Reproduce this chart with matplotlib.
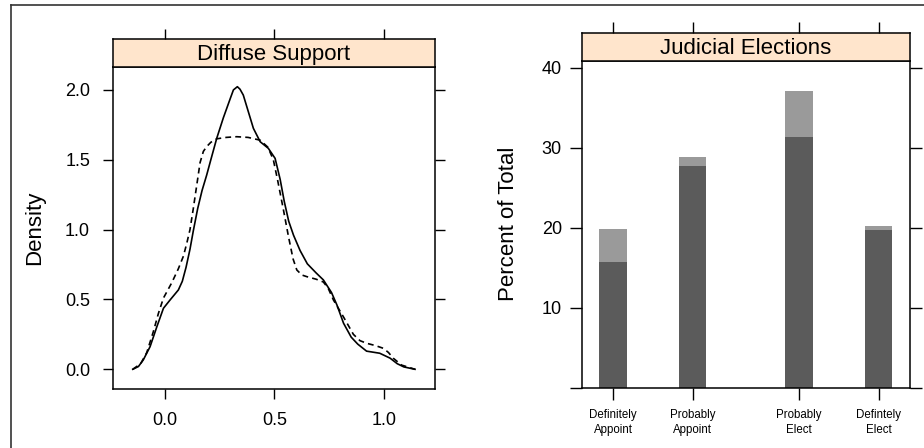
import numpy as np
import matplotlib
matplotlib.use('Agg')
import matplotlib.pyplot as plt
from matplotlib.lines import Line2D

plt.rcParams['font.family'] = ['Liberation Sans', 'DejaVu Sans']

# density curves
dens_x = [-0.146, -0.12, -0.098, -0.067, -0.036, -0.006, 0.024, 0.062, 0.08, 0.097,
          0.115, 0.13, 0.15, 0.17, 0.191, 0.21, 0.237, 0.267, 0.299, 0.313,
          0.331, 0.343, 0.358, 0.381, 0.404, 0.435, 0.472, 0.503, 0.526, 0.545,
          0.565, 0.587, 0.617, 0.65, 0.69, 0.723, 0.76, 0.785, 0.815, 0.85,
          0.88, 0.92, 0.98, 1.027, 1.06, 1.09, 1.141]
dens_solid = [0.0, 0.02, 0.067, 0.162, 0.305, 0.437, 0.496, 0.568, 0.63, 0.73,
              0.86, 0.99, 1.15, 1.28, 1.39, 1.50, 1.654, 1.80, 1.94, 2.0,
              2.023, 2.005, 1.963, 1.844, 1.725, 1.629, 1.582, 1.51, 1.36, 1.20,
              1.06, 0.96, 0.85, 0.755, 0.69, 0.64, 0.55, 0.46, 0.33, 0.23,
              0.18, 0.13, 0.115, 0.08, 0.04, 0.017, 0.0]
dash_x = [-0.146, -0.11, -0.082, -0.052, -0.029, -0.006, 0.032, 0.062, 0.085, 0.10,
          0.115, 0.13, 0.146, 0.161, 0.176, 0.191, 0.21, 0.237, 0.28, 0.328,
          0.38, 0.435, 0.47, 0.495, 0.515, 0.54, 0.564, 0.585, 0.602, 0.625,
          0.648, 0.69, 0.723, 0.745, 0.769, 0.814, 0.860, 0.89, 0.921, 0.96,
          0.997, 1.02, 1.042, 1.08, 1.141]
dens_dash = [0.0, 0.04, 0.12, 0.27, 0.40, 0.51, 0.62, 0.72, 0.81, 0.90,
             1.0, 1.15, 1.32, 1.48, 1.56, 1.594, 1.625, 1.65, 1.66, 1.665,
             1.66, 1.64, 1.59, 1.50, 1.35, 1.15, 0.95, 0.79, 0.711, 0.675,
             0.663, 0.645, 0.625, 0.58, 0.496, 0.377, 0.25, 0.205, 0.186, 0.17,
             0.150, 0.12, 0.079, 0.03, 0.0]

# judicial elections bars
categories = ['Definitely\nAppoint', 'Probably\nAppoint', 'Probably\nElect', 'Defintely\nElect']
cat_pos = [1, 2, 3.33, 4.33]
pct_light = [19.8, 28.9, 37.1, 20.2]
pct_dark = [15.7, 27.75, 31.3, 19.7]

W, H = 924, 448
fig = plt.figure(figsize=(W / 100, H / 100), dpi=100)

def fx(px):
    return px / W

def fy(py):
    return 1 - py / H

strip_col = '#ffe5cc'
tick_fs = 13
lab_fs = 16

# ---------- left panel ----------
ax1 = fig.add_axes([fx(113), fy(389), fx(435 - 113), (389 - 67) / H])
ax1.plot(dens_x, dens_solid, color='black', lw=1.2, solid_joinstyle='round')
ax1.plot(dash_x, dens_dash, color='black', lw=1.2, ls=(0, (3.5, 2.5)))
ax1.set_xlim(-0.236, 1.232)
ax1.set_ylim(-0.141, 2.164)
ax1.set_xticks([0.0, 0.5, 1.0])
ax1.set_xticklabels(['0.0', '0.5', '1.0'])
ax1.set_yticks([0.0, 0.5, 1.0, 1.5, 2.0])
ax1.set_yticklabels(['0.0', '0.5', '1.0', '1.5', '2.0'])
ax1.tick_params(axis='both', direction='out', length=7.5, width=1.0, labelsize=tick_fs, pad=9)
ax1.tick_params(axis='y', right=True)
for s in ax1.spines.values():
    s.set_linewidth(1.1)
fig.text(fx(35), fy(228), 'Density', rotation=90, ha='center', va='center', fontsize=lab_fs)

st1 = fig.add_axes([fx(113), fy(67), fx(435 - 113), 28 / H])
st1.set_facecolor(strip_col)
st1.set_xlim(ax1.get_xlim())
st1.set_yticks([])
st1.set_xticks([0.0, 0.5, 1.0])
st1.tick_params(axis='x', bottom=False, top=True, labelbottom=False, direction='out', length=7.5, width=1.0)
for s in st1.spines.values():
    s.set_linewidth(1.1)
st1.text(0.5, 0.45, 'Diffuse Support', transform=st1.transAxes, ha='center', va='center', fontsize=lab_fs)

# ---------- right panel ----------
ax2 = fig.add_axes([fx(582), fy(387.7), fx(909.7 - 582), (387.7 - 60.7) / H])
ax2.bar(cat_pos, pct_light, width=0.342, color='#9a9a9a')
ax2.bar(cat_pos, pct_dark, width=0.342, color='#5b5b5b')
ax2.set_xlim(0.61, 4.72)
ax2.set_ylim(0, 40.9)
ax2.set_xticks(cat_pos)
ax2.set_xticklabels(categories, fontsize=8.3, linespacing=1.3)
ax2.set_yticks([0, 10, 20, 30, 40])
ax2.set_yticklabels(['', '10', '20', '30', '40'])
ax2.tick_params(axis='both', direction='out', length=8.5, width=1.0)
ax2.tick_params(axis='y', right=True, labelsize=tick_fs, pad=6)
ax2.tick_params(axis='x', pad=7)
for s in ax2.spines.values():
    s.set_linewidth(1.1)
fig.text(fx(508.7), fy(224), 'Percent of Total', rotation=90, ha='center', va='center', fontsize=lab_fs)

st2 = fig.add_axes([fx(582), fy(60.7), fx(909.7 - 582), 27.7 / H])
st2.set_facecolor(strip_col)
st2.set_xlim(ax2.get_xlim())
st2.set_yticks([])
st2.set_xticks(cat_pos)
st2.tick_params(axis='x', bottom=False, top=True, labelbottom=False, direction='out', length=8, width=1.0)
for s in st2.spines.values():
    s.set_linewidth(1.1)
st2.text(0.5, 0.45, 'Judicial Elections', transform=st2.transAxes, ha='center', va='center', fontsize=lab_fs)

# outer frame (runs off the right and bottom)
fig.add_artist(Line2D([fx(10.5), fx(10.5)], [fy(5), 0], color='#333333', lw=1.2))
fig.add_artist(Line2D([fx(10.5), 1], [fy(5), fy(5)], color='#333333', lw=1.2))

fig.savefig('out.png', dpi=100)
